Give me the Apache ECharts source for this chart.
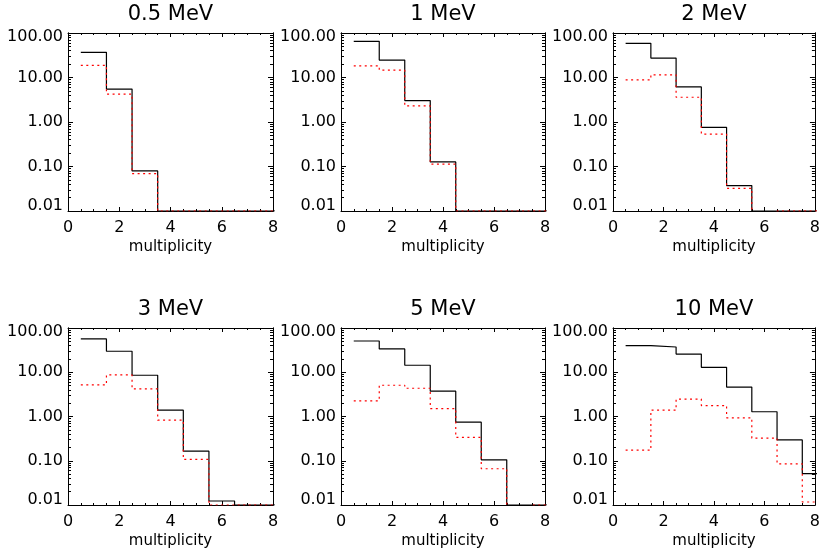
<!DOCTYPE html>
<html><head><meta charset="utf-8">
<script src="https://cdn.jsdelivr.net/npm/echarts@6/dist/echarts.min.js"></script>
<style>html,body{margin:0;padding:0;background:#fff}#c{width:823px;height:552px}</style>
</head><body><div id="c"></div>
<script>
// ---------------- data ----------------
const titles = ['0.5 MeV', '1 MeV', '2 MeV', '3 MeV', '5 MeV', '10 MeV'];
const bins = [1, 2, 3, 4, 5, 6, 7, 8];
// solid black histograms
const black_05 = [36.8, 5.48, 0.0795, 0.01, 0.01, 0.01, 0.01, 0.01];
const black_1  = [64.9, 24.6, 3.03, 0.127, 0.01, 0.01, 0.01, 0.01];
const black_2  = [58.7, 27.3, 6.15, 0.758, 0.0372, 0.01, 0.01, 0.01];
const black_3  = [56.5, 29.8, 8.56, 1.39, 0.165, 0.0123, 0.01, 0.01];
const black_5  = [50.9, 33.6, 14.4, 3.73, 0.745, 0.105, 0.01, 0.01];
const black_10 = [39.8, 37.2, 25.8, 12.9, 4.62, 1.28, 0.296, 0.0512];
// dotted red histograms
const red_05 = [18.7, 4.23, 0.0693, 0.01, 0.01, 0.01, 0.01, 0.01];
const red_1  = [18.3, 14.6, 2.30, 0.113, 0.01, 0.01, 0.01, 0.01];
const red_2  = [8.86, 11.5, 3.60, 0.536, 0.0324, 0.005, 0.01, 0.01];
const red_3  = [5.18, 8.71, 4.21, 0.827, 0.107, 0.01, 0.01, 0.01];
const red_5  = [2.26, 5.09, 4.35, 1.51, 0.336, 0.066, 0.005, 0.01];
const red_10 = [0.173, 1.39, 2.47, 1.77, 0.933, 0.323, 0.0848, 0.0117];
const blacks = [black_05, black_1, black_2, black_3, black_5, black_10];
const reds = [red_05, red_1, red_2, red_3, red_5, red_10];
// axis ticks
const xTickLabels = [0, 2, 4, 6, 8];
const yMajorTicks = [0.01, 0.1, 1, 10, 100];
const yMinorTicks = [0.02, 0.03, 0.04, 0.05, 0.06, 0.07, 0.08, 0.09,
                     0.2, 0.3, 0.4, 0.5, 0.6, 0.7, 0.8, 0.9,
                     2, 3, 4, 5, 6, 7, 8, 9,
                     20, 30, 40, 50, 60, 70, 80, 90];

// ---------------- layout ----------------
const lefts = [68, 341, 613];
const widths = [205, 204, 205];
const tops = [33, 328];
const heights = [178, 177];
const FONT = 'DejaVu Sans';

function steps(vals) {
  const pts = [];
  bins.forEach((b, i) => { pts.push([b - 0.5, vals[i]]); pts.push([b + 0.5, vals[i]]); });
  return pts;
}

const grid = [], xAxis = [], yAxis = [], series = [];
const axisLine = { show: true, onZero: false, lineStyle: { color: '#000', width: 1 } };

for (let p = 0; p < 6; p++) {
  const r = Math.floor(p / 3), c = p % 3;
  grid.push({ left: lefts[c], top: tops[r], width: widths[c], height: heights[r] });
  const xb = xAxis.length;
  // bottom x axis
  xAxis.push({
    type: 'value', gridIndex: p, position: 'bottom', min: 0, max: 8, interval: 2,
    axisLine, splitLine: { show: false },
    axisTick: { show: true, inside: true, length: 4, lineStyle: { color: '#000' } },
    minorTick: { show: true, splitNumber: 4, length: 2, lineStyle: { color: '#000' } },
    axisLabel: { show: true, margin: 9, fontFamily: FONT, fontSize: 16, color: '#000',
                 customValues: xTickLabels },
    name: 'multiplicity', nameLocation: 'middle', nameGap: 29,
    nameTextStyle: { fontFamily: FONT, fontSize: 15, color: '#000' }
  });
  // top x axis (mirror)
  xAxis.push({
    type: 'value', gridIndex: p, position: 'top', min: 0, max: 8, interval: 2,
    axisLine, splitLine: { show: false },
    axisTick: { show: true, inside: true, length: 4, lineStyle: { color: '#000' } },
    minorTick: { show: true, splitNumber: 4, length: 2, lineStyle: { color: '#000' } },
    axisLabel: { show: false },
    name: titles[p], nameLocation: 'middle', nameGap: 8,
    nameTextStyle: { fontFamily: FONT, fontSize: 21, color: '#000' }
  });
  const yb = yAxis.length;
  const yCommon = { type: 'log', logBase: 10, gridIndex: p, min: 0.01, max: 100,
                    axisLine, splitLine: { show: false }, minorTick: { show: false } };
  // left major with labels
  yAxis.push(Object.assign({}, yCommon, {
    position: 'left',
    axisTick: { show: true, inside: true, length: 5, customValues: yMajorTicks, lineStyle: { color: '#000' } },
    axisLabel: {
      show: true, margin: 5, fontFamily: FONT, fontSize: 16, color: '#000',
      customValues: yMajorTicks,
      formatter: v => {
        if (Math.abs(v - 0.01) < 1e-9) return '{lo|0.01}';
        if (Math.abs(v - 100) < 1e-6) return '{hi|100.00}';
        return v.toFixed(2);
      },
      rich: {
        lo: { fontFamily: FONT, fontSize: 16, color: '#000', padding: [0, 0, 10, 0] },
        hi: { fontFamily: FONT, fontSize: 16, color: '#000', padding: [7, 0, 0, 0] }
      }
    }
  }));
  // left minor
  yAxis.push(Object.assign({}, yCommon, {
    position: 'left',
    axisTick: { show: true, inside: true, length: 3, customValues: yMinorTicks, lineStyle: { color: '#000' } },
    axisLabel: { show: false }
  }));
  // right major
  yAxis.push(Object.assign({}, yCommon, {
    position: 'right',
    axisTick: { show: true, inside: true, length: 5, customValues: yMajorTicks, lineStyle: { color: '#000' } },
    axisLabel: { show: false }
  }));
  // right minor
  yAxis.push(Object.assign({}, yCommon, {
    position: 'right',
    axisTick: { show: true, inside: true, length: 3, customValues: yMinorTicks, lineStyle: { color: '#000' } },
    axisLabel: { show: false }
  }));

  series.push({
    type: 'line', xAxisIndex: xb, yAxisIndex: yb, data: steps(blacks[p]),
    symbol: 'none', clip: true, z: 3,
    lineStyle: { color: '#000', width: 1.2 }
  });
  series.push({
    type: 'line', xAxisIndex: xb, yAxisIndex: yb, data: steps(reds[p]),
    symbol: 'none', clip: true, z: 4,
    lineStyle: { color: '#ff0000', width: 1.2, type: [2, 3.5] }
  });
}

const chart = echarts.init(document.getElementById('c'), null, { renderer: 'canvas' });
chart.setOption({ animation: false, backgroundColor: '#fff', grid, xAxis, yAxis, series });
</script>
</body></html>
